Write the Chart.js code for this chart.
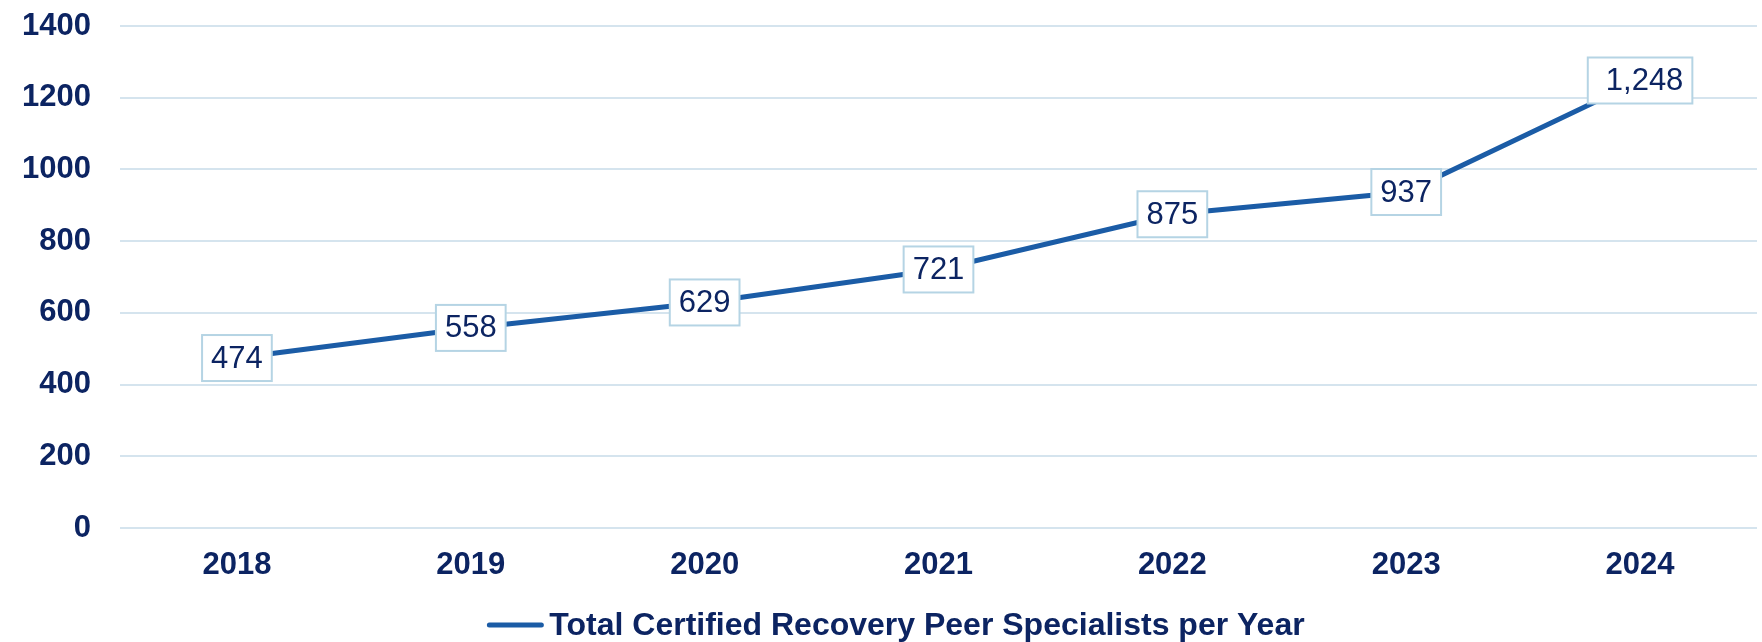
<!DOCTYPE html>
<html>
<head>
<meta charset="utf-8">
<script src="https://cdn.jsdelivr.net/npm/chart.js@4/dist/chart.umd.min.js"></script>
<style>
  html, body { margin: 0; padding: 0; background: #ffffff; }
  #wrap { width: 1762px; height: 642px; }
</style>
</head>
<body>
<div id="wrap"><canvas id="c" width="1762" height="642"></canvas></div>
<script>
const categories = ["2018", "2019", "2020", "2021", "2022", "2023", "2024"];
const seriesName = "Total Certified Recovery Peer Specialists per Year";
const seriesValues = [474, 558, 629, 721, 875, 937, 1248];
const yTicks = [0, 200, 400, 600, 800, 1000, 1200, 1400];

const NAVY = "#0c2462";
const LINE = "#1b5ca6";
const GRID = "#d5e4ee";
const BOXBORDER = "#b5d4e4";
const FONT = "'Liberation Sans', Arial, sans-serif";

const labelPlugin = {
  id: "boxLabels",
  afterDatasetsDraw(chart) {
    const ctx = chart.ctx;
    const meta = chart.getDatasetMeta(0);
    ctx.save();
    ctx.font = "31px " + FONT;
    ctx.textAlign = "center";
    ctx.textBaseline = "middle";
    meta.data.forEach((pt, i) => {
      const txt = seriesValues[i].toLocaleString("en-US");
      const tw = ctx.measureText(txt).width;
      const extra = seriesValues[i] >= 1000 ? 9 : 0;
      const w = tw + 18 + extra;
      const h = 46;
      const x0 = pt.x - w / 2;
      const y0 = pt.y - h / 2;
      ctx.fillStyle = "#ffffff";
      ctx.fillRect(x0, y0, w, h);
      ctx.strokeStyle = BOXBORDER;
      ctx.lineWidth = 2;
      ctx.strokeRect(x0, y0, w, h);
      ctx.fillStyle = NAVY;
      ctx.fillText(txt, pt.x + extra / 2, pt.y + 1);
    });
    ctx.restore();
  },
  afterDraw(chart) {
    const ctx = chart.ctx;
    ctx.save();
    ctx.font = "bold 32px " + FONT;
    const tw = ctx.measureText(seriesName).width;
    const lineW = 56, gap = 6;
    const total = lineW + gap + tw;
    const cx = 896;
    const x0 = cx - total / 2;
    const y = 625;
    ctx.strokeStyle = LINE;
    ctx.lineWidth = 5;
    ctx.lineCap = "round";
    ctx.beginPath();
    ctx.moveTo(x0 + 2, y);
    ctx.lineTo(x0 + lineW - 2, y);
    ctx.stroke();
    ctx.fillStyle = NAVY;
    ctx.textAlign = "left";
    ctx.textBaseline = "middle";
    ctx.fillText(seriesName, x0 + lineW + gap, y + 1);
    ctx.restore();
  }
};

new Chart(document.getElementById("c"), {
  type: "line",
  data: {
    labels: categories,
    datasets: [{
      label: seriesName,
      data: seriesValues,
      borderColor: LINE,
      backgroundColor: LINE,
      borderWidth: 5,
      pointRadius: 0,
      pointHoverRadius: 0,
      tension: 0,
      fill: false
    }]
  },
  options: {
    responsive: false,
    devicePixelRatio: 1,
    animation: false,
    layout: { padding: { left: 22, right: 5, top: 26, bottom: 58 } },
    plugins: { legend: { display: false }, tooltip: { enabled: false } },
    scales: {
      x: {
        offset: true,
        grid: { display: false, drawTicks: false, offset: true },
        border: { display: false },
        ticks: { color: NAVY, font: { family: FONT, size: 31, weight: "bold" }, padding: 19, maxRotation: 0, autoSkip: false },
        afterFit(scale) { scale.height = 56; scale.paddingLeft = 0; scale.paddingRight = 0; }
      },
      y: {
        min: 0,
        max: 1400,
        afterBuildTicks(scale) { scale.ticks = yTicks.map(v => ({ value: v })); },
        grid: { color: GRID, lineWidth: 2, drawTicks: false },
        border: { display: false },
        ticks: { color: NAVY, font: { family: FONT, size: 31, weight: "bold" }, padding: 29, callback: v => String(v) },
        afterFit(scale) { scale.width = 98; scale.paddingTop = 0; scale.paddingBottom = 0; }
      }
    }
  },
  plugins: [labelPlugin]
});
</script>
</body>
</html>
